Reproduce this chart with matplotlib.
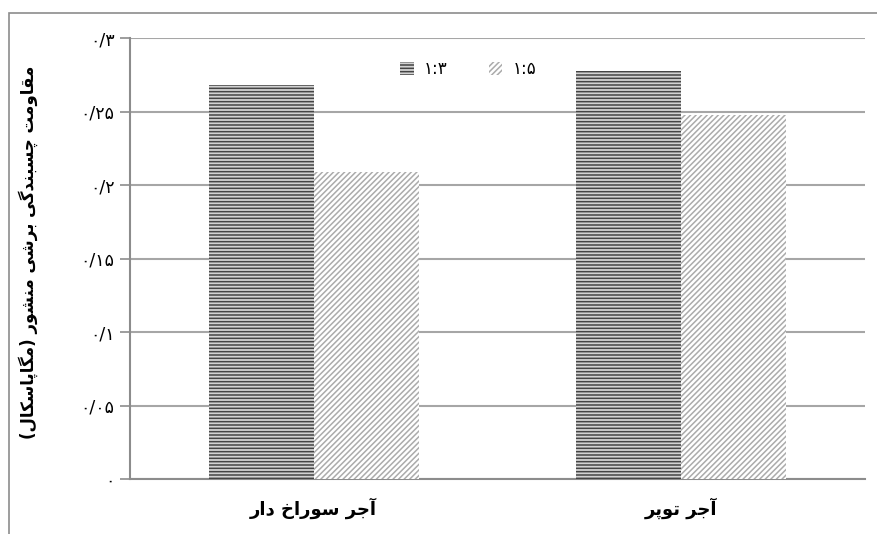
import matplotlib
matplotlib.use("Agg")
import matplotlib.pyplot as plt
from matplotlib.patches import Rectangle, Patch

# chart data
categories = ["آجر سوراخ دار", "آجر توپر"]
series_names = ["۱:۳", "۱:۵"]
ratio_13 = [0.268, 0.278]
ratio_15 = [0.209, 0.248]
y_ticks = [0, 0.05, 0.1, 0.15, 0.2, 0.25, 0.3]
y_tick_labels = ["۰", "۰/۰۵", "۰/۱", "۰/۱۵", "۰/۲", "۰/۲۵", "۰/۳"]
y_label = "مقاومت چسبندگی برشی منشور (مگاپاسکال)"

# Arabic presentation forms: isolated, final, initial, medial
FORMS = {
  "ا": ("\uFE8D", "\uFE8E"),
  "آ": ("\uFE81", "\uFE82"),
  "د": ("\uFEA9", "\uFEAA"),
  "ر": ("\uFEAD", "\uFEAE"),
  "و": ("\uFEED", "\uFEEE"),
  "ب": ("\uFE8F", "\uFE90", "\uFE91", "\uFE92"),
  "پ": ("\uFB56", "\uFB57", "\uFB58", "\uFB59"),
  "ت": ("\uFE95", "\uFE96", "\uFE97", "\uFE98"),
  "ج": ("\uFE9D", "\uFE9E", "\uFE9F", "\uFEA0"),
  "چ": ("\uFB7A", "\uFB7B", "\uFB7C", "\uFB7D"),
  "خ": ("\uFEA5", "\uFEA6", "\uFEA7", "\uFEA8"),
  "س": ("\uFEB1", "\uFEB2", "\uFEB3", "\uFEB4"),
  "ش": ("\uFEB5", "\uFEB6", "\uFEB7", "\uFEB8"),
  "ق": ("\uFED5", "\uFED6", "\uFED7", "\uFED8"),
  "ک": ("\uFB8E", "\uFB8F", "\uFB90", "\uFB91"),
  "گ": ("\uFB92", "\uFB93", "\uFB94", "\uFB95"),
  "ل": ("\uFEDD", "\uFEDE", "\uFEDF", "\uFEE0"),
  "م": ("\uFEE1", "\uFEE2", "\uFEE3", "\uFEE4"),
  "ن": ("\uFEE5", "\uFEE6", "\uFEE7", "\uFEE8"),
  "ی": ("\uFBFC", "\uFBFD", "\uFBFE", "\uFBFF"),
}
MIRROR = {"(": ")", ")": "("}


def rtl(text):
  """Join letters into contextual forms and lay them out left to right."""
  out = []
  for i, ch in enumerate(text):
    forms = FORMS.get(ch)
    if forms is None:
      out.append(MIRROR.get(ch, ch))
      continue
    prev = text[i - 1] if i > 0 else ""
    nxt = text[i + 1] if i + 1 < len(text) else ""
    to_prev = prev in FORMS and len(FORMS[prev]) == 4
    to_next = len(forms) == 4 and nxt in FORMS
    if to_prev and to_next:
      out.append(forms[3])
    elif to_next:
      out.append(forms[2])
    elif to_prev:
      out.append(forms[1])
    else:
      out.append(forms[0])
  return "".join(reversed(out))


plt.rcParams["font.family"] = ["DejaVu Sans"]
plt.rcParams["hatch.linewidth"] = 1.1

fig = plt.figure(figsize=(8.78, 5.34), dpi=100)
ax = fig.add_axes([130 / 878, 55 / 534, 735 / 878, 440.7 / 534])

x = [0, 1]
w = 0.286
ax.bar([i - w / 2 for i in x], ratio_13, width=w, facecolor="#d2d2d2",
       edgecolor="#444444", hatch="-----", linewidth=0, zorder=3)
ax.bar([i + w / 2 for i in x], ratio_15, width=w, facecolor="white",
       edgecolor="#ababab", hatch="//////", linewidth=0, zorder=3)

ax.set_xlim(-0.5, 1.5)
ax.set_ylim(0, 0.3)
ax.set_yticks(y_ticks)
ax.set_yticklabels(y_tick_labels, fontsize=12.5)
ax.set_xticks(x)
ax.set_xticklabels([rtl(c) for c in categories], fontsize=13, fontweight="bold")
ax.tick_params(axis="x", length=0, pad=13)
ax.tick_params(axis="y", length=7, width=1.2, color="#8c8c8c", pad=4)

ax.yaxis.grid(True, color="#a6a6a6", linewidth=1.5, zorder=0)
ax.set_axisbelow(True)
for side in ("top", "right"):
  ax.spines[side].set_visible(False)
ax.spines["left"].set_color("#8c8c8c")
ax.spines["left"].set_linewidth(1.5)
ax.spines["bottom"].set_color("#8c8c8c")
ax.spines["bottom"].set_linewidth(1.5)

ax.set_ylabel(rtl(y_label), fontsize=12, fontweight="bold")
ax.yaxis.set_label_coords(-0.125, 0.515)

handles = [
  Patch(facecolor="#d2d2d2", edgecolor="#444444", hatch="-----", linewidth=0),
  Patch(facecolor="white", edgecolor="#ababab", hatch="//////", linewidth=0),
]
ax.legend(handles, series_names, loc="center", bbox_to_anchor=(0.46, 0.93),
          ncol=2, frameon=False, fontsize=12, handlelength=0.8,
          handleheight=0.8, handletextpad=0.6, columnspacing=2.5)

# chart area border
fig.add_artist(Rectangle((9 / 878, -0.1), 1.2, (534 - 13) / 534 + 0.1,
                         transform=fig.transFigure, fill=False,
                         edgecolor="#8c8c8c", linewidth=1.2))

fig.savefig("out.png", dpi=100)
